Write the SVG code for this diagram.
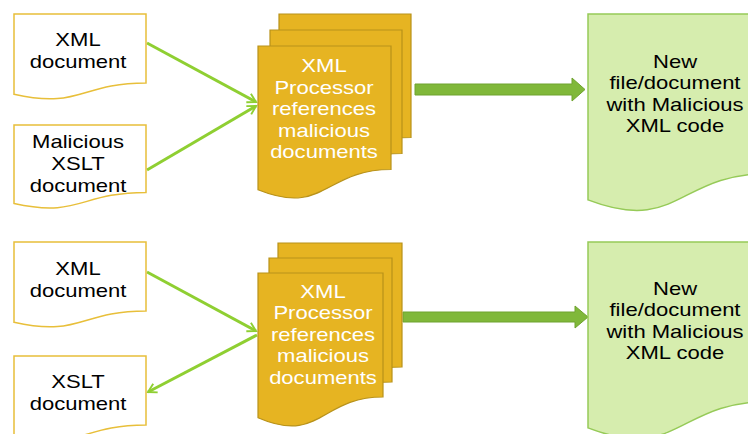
<svg xmlns="http://www.w3.org/2000/svg" width="748" height="434" viewBox="0 0 748 434">
<defs>
<style>
.doc{fill:#ffffff;stroke:#e8bf3a;stroke-width:1.5}
.proc{fill:#e6b422;stroke:#b8921a;stroke-width:1.2}
.out{fill:#d6edae;stroke:#96ca58;stroke-width:1.5}
.thin{fill:none;stroke:#8fcf32;stroke-width:3;marker-end:url(#ah)}
.big{fill:#80b83a;stroke:#6fa32e;stroke-width:1}
.t{font-family:"Liberation Sans",Arial,sans-serif;font-size:19px;text-anchor:middle;fill:#000}
.w{fill:#ffffff}
</style>
<marker id="ah" viewBox="0 0 10 10" refX="8" refY="5" markerWidth="4" markerHeight="4" orient="auto" markerUnits="strokeWidth">
<path d="M1,1 L8,5 L1,9" fill="none" stroke="#8fcf32" stroke-width="1.6"/>
</marker>
</defs>
<rect width="748" height="434" fill="#ffffff"/>

<g id="connectors">
<line class="thin" x1="147" y1="43" x2="256" y2="102"/>
<line class="thin" x1="147" y1="170" x2="256" y2="106"/>
<path class="big" d="M415,84 H572 V78 L585,89.5 L572,101 V95 H415 Z"/>
<line class="thin" x1="147" y1="272" x2="256" y2="331"/>
<line class="thin" x1="257" y1="335" x2="148" y2="392"/>
<path class="big" d="M403,312 H575 V306 L588,317 L575,328 V322 H403 Z"/>
</g>

<g id="xml-doc-1">
<path class="doc" d="M14,14 H146 V83 C80,83 80,109.2 14,94.3 Z"/>
<text class="t" transform="translate(78,0) scale(1.16,1)"><tspan x="0" y="46">XML</tspan><tspan x="0" y="68">document</tspan></text>
</g>

<g id="xslt-doc-1">
<path class="doc" d="M14,125 H146 V192.4 C80,192.4 80,218 14,203.5 Z"/>
<text class="t" transform="translate(78,0) scale(1.16,1)"><tspan x="0" y="148">Malicious</tspan><tspan x="0" y="170">XSLT</tspan><tspan x="0" y="192">document</tspan></text>
</g>

<g id="processor-1">
<path class="proc" d="M279,14 H411 V137.5 C345,137.5 345,184.6 279,157.8 Z"/>
<path class="proc" d="M270,30 H402 V153.5 C336,153.5 336,200.6 270,173.8 Z"/>
<path class="proc" d="M258,46 H391 V169.5 C324.5,169.5 324.5,216.6 258,189.8 Z"/>
<text class="t w" transform="translate(324,0) scale(1.16,1)"><tspan x="0" y="72">XML</tspan><tspan x="0" y="93.6">Processor</tspan><tspan x="0" y="115.2">references</tspan><tspan x="0" y="136.8">malicious</tspan><tspan x="0" y="158.4">documents</tspan></text>
</g>

<g id="output-1">
<path class="out" d="M588,14 H768 V173.6 C678,173.6 678,234.4 588,199.9 Z"/>
<text class="t" transform="translate(675,0) scale(1.16,1)"><tspan x="0" y="68">New</tspan><tspan x="0" y="89.5">file/document</tspan><tspan x="0" y="111">with Malicious</tspan><tspan x="0" y="132.5">XML code</tspan></text>
</g>

<g id="xml-doc-2">
<path class="doc" d="M14,242 H146 V311 C80,311 80,337.2 14,322.3 Z"/>
<text class="t" transform="translate(78,0) scale(1.16,1)"><tspan x="0" y="275">XML</tspan><tspan x="0" y="297">document</tspan></text>
</g>

<g id="xslt-doc-2">
<path class="doc" d="M14,356 H146 V425 C80,425 80,451.2 14,436.3 Z"/>
<text class="t" transform="translate(78,0) scale(1.16,1)"><tspan x="0" y="388">XSLT</tspan><tspan x="0" y="410">document</tspan></text>
</g>

<g id="processor-2">
<path class="proc" d="M278,243 H402 V367 C340,367 340,414.7 278,387.7 Z"/>
<path class="proc" d="M269,258 H392 V382 C330.5,382 330.5,429.7 269,402.7 Z"/>
<path class="proc" d="M258,273 H383 V397 C320.5,397 320.5,444.7 258,417.7 Z"/>
<text class="t w" transform="translate(323,0) scale(1.16,1)"><tspan x="0" y="298">XML</tspan><tspan x="0" y="319.5">Processor</tspan><tspan x="0" y="341">references</tspan><tspan x="0" y="362.5">malicious</tspan><tspan x="0" y="384">documents</tspan></text>
</g>

<g id="output-2">
<path class="out" d="M588,242 H768 V401.6 C678,401.6 678,462.4 588,427.9 Z"/>
<text class="t" transform="translate(675,0) scale(1.16,1)"><tspan x="0" y="295">New</tspan><tspan x="0" y="316.5">file/document</tspan><tspan x="0" y="338">with Malicious</tspan><tspan x="0" y="359.5">XML code</tspan></text>
</g>
</svg>
